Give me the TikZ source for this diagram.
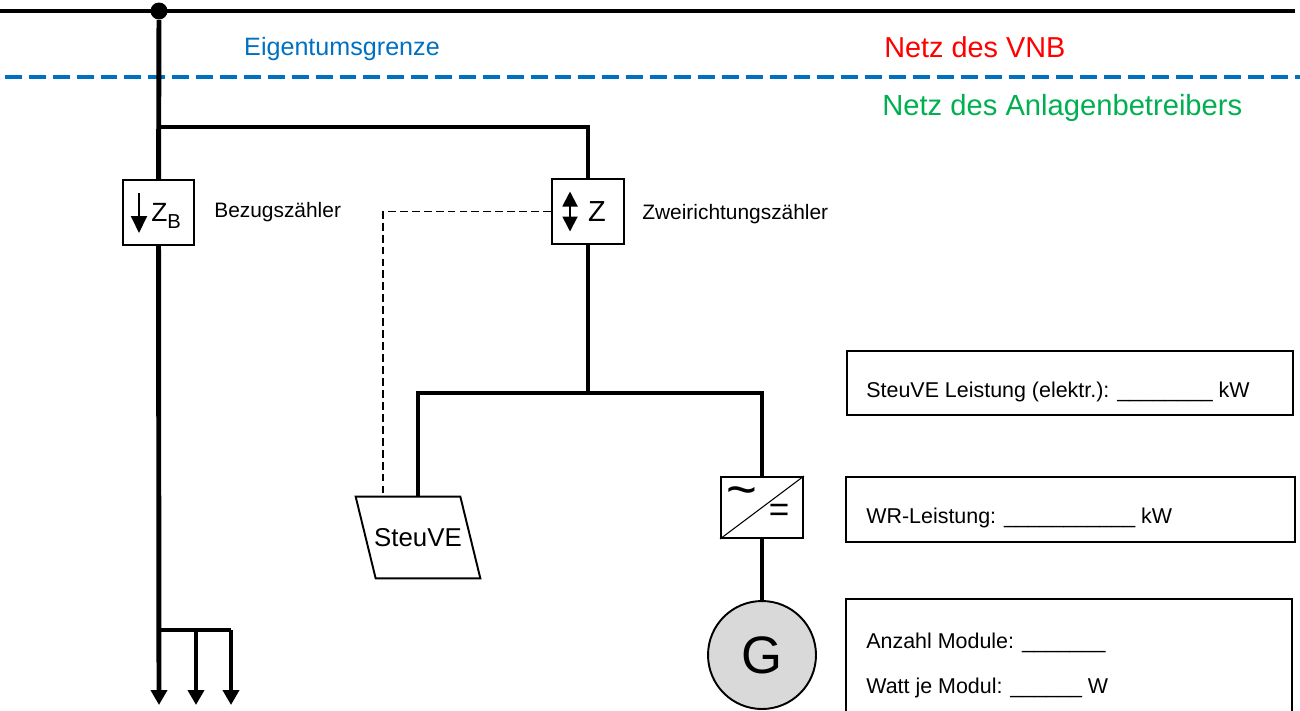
\documentclass[tikz,border=0pt]{standalone}
\usepackage{fontspec}
\setmainfont{Liberation Sans}
\usetikzlibrary{positioning, arrows.meta, shapes.geometric}
\definecolor{egblue}{RGB}{0,112,192}
\definecolor{vnbred}{RGB}{255,0,0}
\definecolor{abgreen}{RGB}{0,176,80}

\begin{document}
\begin{tikzpicture}[x=0.02cm, y=-0.02cm,
    wire/.style={line width=2.8pt},
    meter/.style={draw, line width=1.1pt, minimum width=1.42cm, minimum height=1.3cm, inner sep=0pt},
    infobox/.style={draw, line width=0.85pt, minimum width=8.92cm, inner sep=0pt},
    lbl/.style={inner sep=0pt, font=\fontsize{11.9}{14}\selectfont},
    infotext/.style={inner sep=0pt, anchor=base west, font=\fontsize{12.2}{14}\selectfont},
    load/.style={wire, -{Triangle[width=0.32cm, length=0.3cm]}}]
    \useasboundingbox (0,0) rectangle (1300,710);
    % Netz und Eigentumsgrenze
    \coordinate (netzL) at (0,11);
    \coordinate (netzR) at (1295,11);
    \node[circle, fill, inner sep=0pt, minimum size=0.34cm] (hak) at (159,11) {};
    \coordinate (grenzeL) at (5,77);
    \coordinate (grenzeR) at (1300,77);
    \node[inner sep=0pt, anchor=base, text=egblue, font=\fontsize{14.3}{16}\selectfont] (eigentum) at (342,55) {Eigentumsgrenze};
    \node[inner sep=0pt, anchor=base west, text=vnbred, font=\fontsize{16.4}{18}\selectfont] (vnb) at (884,57) {Netz des VNB};
    \node[inner sep=0pt, anchor=base west, text=abgreen, font=\fontsize{16.6}{18}\selectfont] (anlage) at (882,115) {Netz des Anlagenbetreibers};
    % Zaehler
    \node[meter] (zb) at (158.5,212.5) {};
    \node[inner sep=0pt, anchor=base west, font=\fontsize{15}{17}\selectfont] (zbsym) at (151,221) {Z\raisebox{-0.28em}{\fontsize{11.5}{12}\selectfont B}};
    \node[lbl, right=0.38cm of zb] (zblabel) {Bezugszähler};
    \node[meter, minimum width=1.44cm] (z) at (588,211.5) {};
    \node[inner sep=0pt, font=\fontsize{16.5}{18}\selectfont] (zsym) at (597,212) {Z};
    \node[lbl, right=0.34cm of z, yshift=-0.06cm] (zlabel) {Zweirichtungszähler};
    % Verbraucher und Erzeuger
    \node[minimum width=2.08cm, minimum height=1.62cm, inner sep=0pt,
          font=\fontsize{14.7}{16}\selectfont] (steuve) at (418,537.5) {SteuVE};
    \draw[line width=1.1pt] ([xshift=-0.2cm]steuve.north west) -- ([xshift=-0.2cm]steuve.north east)
        -- ([xshift=0.2cm]steuve.south east) -- ([xshift=0.2cm]steuve.south west) -- cycle;
    \node[draw, line width=1.1pt, minimum width=1.64cm, minimum height=1.22cm, inner sep=0pt] (wr) at (762,507.5) {};
    \node[inner sep=0pt, font=\fontsize{30}{32}\selectfont] (wrac) at (742,497) {\textasciitilde};
    \node[inner sep=0pt, font=\fontsize{20}{22}\selectfont] (wrdc) at (779,513) {=};
    \node[circle, draw, line width=1.1pt, fill=black!15, minimum size=2.16cm, inner sep=0pt,
          font=\fontsize{30}{32}\selectfont] (gen) at (762,655) {G};
    % Angaben
    \node[infobox, minimum height=1.28cm] (info1) at (1070,383) {};
    \node[infotext] (info1text) at (866,397) {SteuVE Leistung (elektr.): \_\_\_\_\_\_\_\_ kW};
    \node[infobox, minimum width=8.98cm, minimum height=1.3cm] (info2) at (1070.5,509.5) {};
    \node[infotext] (info2text) at (866,523) {WR-Leistung: \_\_\_\_\_\_\_\_\_\_\_ kW};
    \node[infobox, minimum height=2.62cm] (info3) at (1069,664.5) {};
    \node[infotext] (info3text) at (866,648) {Anzahl Module: \_\_\_\_\_\_\_};
    \node[infotext] (info3wp) at (866,693) {Watt je Modul: \_\_\_\_\_\_ W};
    % Hilfspunkte
    \coordinate (abzweig) at (159,127);
    \coordinate (knoten) at (588,393);
    \coordinate (stTop) at (383,497);
    \coordinate (verteil) at (159,630);
    \coordinate (vert2) at (196,630);
    \coordinate (vert3) at (231,630);
    \coordinate (last1) at (159,705);
    \coordinate (last2) at (196,705);
    \coordinate (last3) at (231,705);
    % Leitungen
    \draw[wire] (netzL) -- (netzR);
    \draw[line width=2.8pt, egblue, dash pattern=on 9.6pt off 4pt] (grenzeL) -- (grenzeR);
    \draw[wire] (hak) -- (zb);
    \draw[wire] (abzweig) -| (z);
    \draw[wire] (z) -- (knoten);
    \draw[wire] (steuve) |- (knoten) -| (wr);
    \draw[wire] (wr) -- (gen);
    \draw[line width=0.6pt] (wr.south west) -- (wr.north east);
    \draw[line width=0.6pt, dash pattern=on 4.5pt off 2.3pt] (z.west) -| (stTop);
    \draw[load] (zb) -- (last1);
    \draw[wire] (verteil) -- (vert3);
    \draw[load] (vert2) -- (last2);
    \draw[load] (vert3) -- (last3);
    % Symbole
    \draw[line width=1.1pt, -{Triangle[width=0.32cm, length=0.34cm]}] ([shift={(-0.39cm,0.39cm)}]zb.center) -- ++(0,-0.8cm);
    \draw[line width=1.1pt, {Triangle[width=0.3cm, length=0.3cm]}-{Triangle[width=0.3cm, length=0.3cm]}] ([shift={(-0.36cm,0.4cm)}]z.center) -- ++(0,-0.8cm);
\end{tikzpicture}
\end{document}
